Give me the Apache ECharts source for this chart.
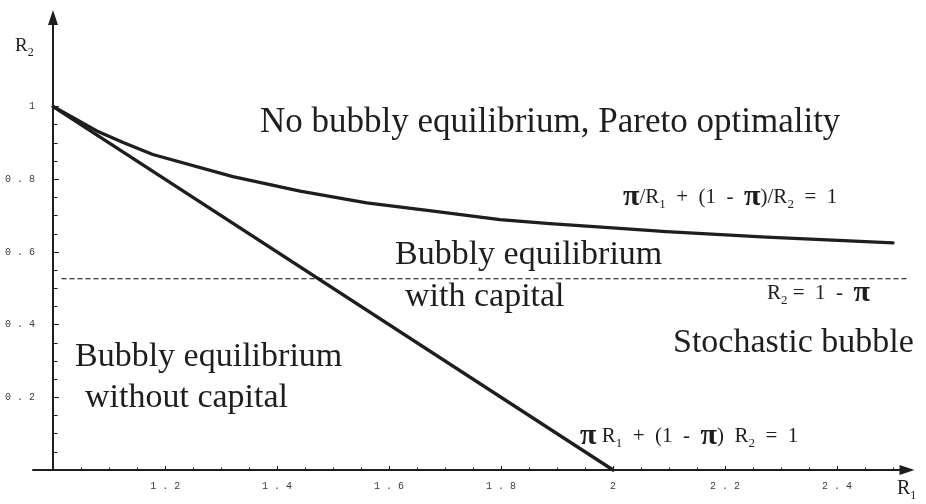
<!DOCTYPE html>
<html>
<head>
<meta charset="utf-8">
<script src="https://cdn.jsdelivr.net/npm/echarts@6/dist/echarts.min.js"></script>
<style>
  html, body { margin: 0; padding: 0; background: #fff; }
  #chart { width: 926px; height: 504px; }
</style>
</head>
<body>
<div id="chart"></div>
<script>
// upper boundary  pi/R1 + (1 - pi)/R2 = 1
const curveR1 = [1, 1.078, 1.125, 1.178, 1.321, 1.441, 1.56, 1.679, 1.798, 1.887, 2.012, 2.095, 2.274, 2.5];
const curveR2 = [1, 0.933, 0.901, 0.868, 0.807, 0.767, 0.735, 0.712, 0.689, 0.678, 0.665, 0.656, 0.641, 0.625];
// lower boundary  pi R1 + (1 - pi) R2 = 1
const lineR1 = [1, 2];
const lineR2 = [1, 0];
// R2 = 1 - pi
const dashR1 = [1.015, 2.524];
const dashR2 = [0.526, 0.526];

// ticks
const xTicks = [1.2, 1.4, 1.6, 1.8, 2, 2.2, 2.4];
const xMinor = [1.05, 1.1, 1.15, 1.25, 1.3, 1.35, 1.45, 1.5, 1.55, 1.65, 1.7, 1.75,
  1.85, 1.9, 1.95, 2.05, 2.1, 2.15, 2.25, 2.3, 2.35, 2.45, 2.5];
const yTicks = [0.2, 0.4, 0.6, 0.8, 1];
const yMinor = [0.05, 0.1, 0.15, 0.25, 0.3, 0.35, 0.45, 0.5, 0.55, 0.65, 0.7, 0.75, 0.85, 0.9, 0.95];

const ink = "#1e1e1e";
const serif = '"Liberation Serif", "Times New Roman", serif';
const mono = '"Liberation Mono", "Courier New", monospace';

function pairs(xs, ys) {
  return xs.map(function (x, i) { return [x, ys[i]]; });
}

// courier tick labels are spread out in the original
function spaced(v) {
  return String(v).split("").join(" ");
}

function label(x, baseline, text, size) {
  return {
    type: "text",
    x: x,
    y: baseline - 0.3 * size,
    silent: true,
    style: {
      text: text,
      fontSize: size,
      fontFamily: serif,
      fill: ink,
      align: "left",
      verticalAlign: "middle",
    },
  };
}

function formula(x, baseline, text, size, piSize) {
  const lh = Math.round(size * 1.3);
  return {
    type: "text",
    x: x,
    y: baseline - 0.32 * size,
    silent: true,
    style: {
      text: text,
      fontSize: size,
      fontFamily: serif,
      fill: ink,
      align: "left",
      verticalAlign: "middle",
      rich: {
        t: { fontSize: size, fontFamily: serif, fill: ink, lineHeight: lh },
        s: { fontSize: Math.round(size * 0.62), fontFamily: serif, fill: ink, verticalAlign: "bottom" },
        p: { fontSize: piSize, fontFamily: serif, fontWeight: "bold", fill: ink, lineHeight: lh },
      },
    },
  };
}

const chart = echarts.init(document.getElementById("chart"));

chart.setOption({
  animation: false,
  backgroundColor: "#fff",
  grid: {
    left: 33,
    right: 19,
    top: 17.5,
    bottom: 34,
    containLabel: false,
  },
  xAxis: [
    {
      type: "value",
      min: 0.964,
      max: 2.525,
      axisLine: {
        show: true,
        onZero: false,
        symbol: ["none", "triangle"],
        symbolSize: [10, 15],
        lineStyle: { color: ink, width: 2 },
      },
      axisTick: {
        show: true,
        inside: true,
        length: 4,
        customValues: xTicks,
        lineStyle: { color: ink, width: 1 },
      },
      axisLabel: {
        show: true,
        customValues: xTicks,
        margin: 11,
        formatter: spaced,
        fontFamily: mono,
        fontSize: 10,
        color: "#3a3a3a",
      },
      splitLine: { show: false },
    },
    {
      type: "value",
      position: "bottom",
      min: 0.964,
      max: 2.525,
      axisLine: { show: false },
      axisTick: {
        show: true,
        inside: true,
        length: 2.5,
        customValues: xMinor,
        lineStyle: { color: ink, width: 1 },
      },
      axisLabel: { show: false },
      splitLine: { show: false },
    },
  ],
  yAxis: [
    {
      type: "value",
      min: 0,
      max: 1.245,
      offset: -20,
      axisLine: {
        show: true,
        onZero: false,
        symbol: ["none", "triangle"],
        symbolSize: [10, 15],
        lineStyle: { color: ink, width: 2 },
      },
      axisTick: {
        show: true,
        inside: true,
        length: 6,
        customValues: yTicks,
        lineStyle: { color: ink, width: 1 },
      },
      axisLabel: {
        show: true,
        customValues: yTicks,
        margin: 18,
        formatter: spaced,
        fontFamily: mono,
        fontSize: 10,
        color: "#3a3a3a",
      },
      splitLine: { show: false },
    },
    {
      type: "value",
      position: "left",
      min: 0,
      max: 1.245,
      offset: -20,
      axisLine: { show: false },
      axisTick: {
        show: true,
        inside: true,
        length: 4.5,
        customValues: yMinor,
        lineStyle: { color: ink, width: 1 },
      },
      axisLabel: { show: false },
      splitLine: { show: false },
    },
  ],
  series: [
    {
      name: "pi/R1 + (1 - pi)/R2 = 1",
      type: "line",
      data: pairs(curveR1, curveR2),
      showSymbol: false,
      symbol: "none",
      clip: false,
      lineStyle: { color: ink, width: 3.3, cap: "round", join: "round" },
    },
    {
      name: "pi R1 + (1 - pi) R2 = 1",
      type: "line",
      data: pairs(lineR1, lineR2),
      showSymbol: false,
      symbol: "none",
      clip: false,
      lineStyle: { color: ink, width: 3.3, cap: "round" },
    },
    {
      name: "R2 = 1 - pi",
      type: "line",
      data: pairs(dashR1, dashR2),
      showSymbol: false,
      symbol: "none",
      lineStyle: { color: "#000", width: 1.1, type: [5, 3] },
    },
  ],
  graphic: [
    // axis titles
    formula(15, 52, "{t|R}{s|2}", 19, 19),
    formula(897, 495, "{t|R}{s|1}", 20, 20),
    // region labels
    label(260, 133, "No bubbly equilibrium, Pareto optimality", 35),
    label(395, 265, "Bubbly equilibrium", 34),
    label(405, 307, "with capital", 34),
    label(673, 353, "Stochastic bubble", 34),
    label(75, 367, "Bubbly equilibrium", 34),
    label(85, 408, "without capital", 34),
    // boundary equations
    formula(623, 204, "{p|π}{t|/R}{s|1}{t|  +  (1  -  }{p|π}{t|)/R}{s|2}{t|  =  1}", 21, 30),
    formula(767, 300, "{t|R}{s|2}{t| =  1  -  }{p|π}", 21, 30),
    formula(580, 443, "{p|π}{t| R}{s|1}{t|  +  (1  -  }{p|π}{t|)  R}{s|2}{t|  =  1}", 21, 30),
  ],
});
</script>
</body>
</html>
